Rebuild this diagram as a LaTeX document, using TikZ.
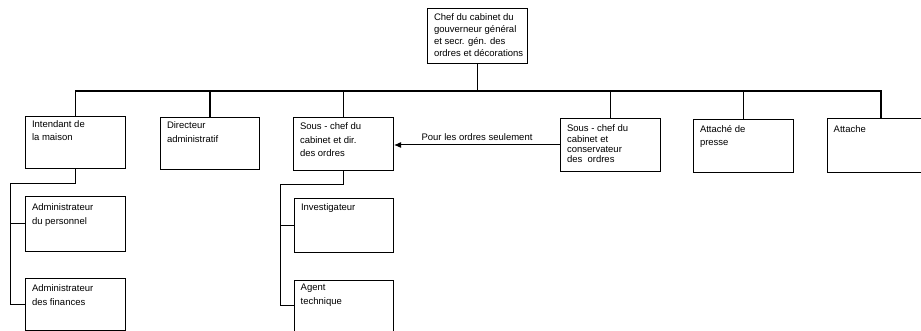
\documentclass[tikz,border=0pt]{standalone}
\usepackage{fontspec}
\setmainfont{Liberation Sans}
\usetikzlibrary{arrows.meta,calc}
\newcommand\bx[5]{\parbox[t][#2][t]{#1}{\fontsize{9.5pt}{#3}\selectfont\raggedright\leftskip=6.5pt\parindent=0pt\rule{0pt}{#4}#5}}
\tikzset{
  orgbox/.style={draw, line width=1pt, inner sep=0pt, anchor=north west},
  openbox/.style={inner sep=0pt, anchor=north west},
  boxline/.style={line width=1pt},
  tree/.style={line width=1.7pt},
  sub/.style={line width=1pt},
  note/.style={-{Latex[length=7pt,width=6pt]}, line width=1pt},
  notetext/.style={font=\fontsize{9.5pt}{11pt}\selectfont, inner sep=1pt},
}
\begin{document}
\begin{tikzpicture}[x=1pt,y=-1pt]
\useasboundingbox (0,0) rectangle (921,331);

% top
\node[orgbox] (top) at (427,8) {\bx{100pt}{55pt}{11.8pt}{12.5pt}{Chef du cabinet du\\gouverneur général\\et secr. gén. des\\ordres et décorations}};

% second row
\node[orgbox] (intendant) at (25,116) {\bx{100pt}{52pt}{13pt}{11.5pt}{Intendant de\\la maison}};
\node[orgbox] (directeur) at (160,117) {\bx{99pt}{52pt}{14pt}{11pt}{Directeur\\administratif}};
\node[orgbox] (souschefL) at (293,117) {\bx{100pt}{53pt}{13.3pt}{12.5pt}{Sous - chef du\\cabinet et dir.\\des ordres}};
\node[orgbox] (souschefR) at (560,118) {\bx{100pt}{53pt}{10.3pt}{13.5pt}{Sous - chef du\\cabinet et\\conservateur\\des~ ordres}};
\node[orgbox] (presse) at (693,119) {\bx{100pt}{53pt}{13pt}{13pt}{Attaché de\\presse}};
\node[openbox] (attache) at (827,119) {\bx{94pt}{53pt}{13pt}{13pt}{Attache}};
\draw[boxline] (attache.north east) -- (attache.north west) -- (attache.south west) -- (attache.south east);

% third level
\node[orgbox] (personnel) at (25,196) {\bx{100pt}{55pt}{14pt}{14pt}{Administrateur\\du personnel}};
\node[orgbox] (finances) at (25,278) {\bx{100pt}{52pt}{14.5pt}{12.5pt}{Administrateur\\des finances}};
\node[orgbox] (investigateur) at (294,198) {\bx{99pt}{54pt}{14pt}{12pt}{Investigateur}};
\node[openbox] (agent) at (294,280) {\bx{99pt}{51pt}{14pt}{10.5pt}{Agent\\technique}};
\draw[boxline] (agent.south west) -- (agent.north west) -- (agent.north east) -- (agent.south east);

% main tree
\coordinate (bus) at ($(top.south)+(0,27)$);
\coordinate (attdrop) at ($(attache.north west)+(54,0)$);
\draw[tree] (top.south) -- (bus);
\draw[tree] (bus) -| (intendant.north);
\draw[tree] (bus) -| (directeur.north);
\draw[tree] (bus) -| (souschefL.north);
\draw[tree] (bus) -| (souschefR.north);
\draw[tree] (bus) -| (presse.north);
\draw[tree] (bus) -| (attdrop);

% sub trees
\coordinate (lspine) at ($(intendant.south)+(-65,15)$);
\draw[sub] (intendant.south) |- (lspine) |- (finances.west);
\draw[sub] (lspine) |- (personnel.west);
\coordinate (mspine) at ($(souschefL.south)+(-63,14)$);
\draw[sub] (souschefL.south) |- (mspine) |- (agent.west);
\draw[sub] (mspine) |- (investigateur.west);

% arrow
\draw[note] (souschefR.west) -- (souschefR.west -| souschefL.east)
  node[notetext, midway, above=3pt] (lbl) {Pour les ordres seulement};
\end{tikzpicture}
\end{document}
